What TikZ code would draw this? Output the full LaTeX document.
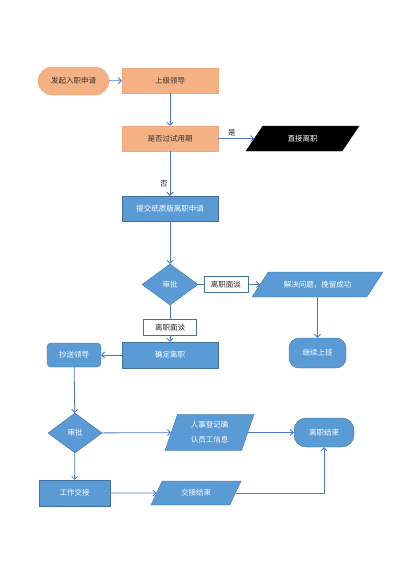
\documentclass[tikz,border=0pt]{standalone}
\usepackage{fontspec}
\setmainfont{Noto Sans CJK SC}
\usetikzlibrary{shapes.geometric,arrows.meta}
\definecolor{boxblue}{HTML}{5B9BD5}
\definecolor{edgeblue}{HTML}{41719C}
\definecolor{lineblue}{HTML}{4A78C2}
\definecolor{boxorange}{HTML}{F4B183}
\definecolor{edgeorange}{HTML}{F0A880}
\begin{document}
\begin{tikzpicture}[x=1pt,y=-1pt,
    every node/.style={font=\fontsize{7.5}{10}\selectfont, inner sep=1pt},
    orangebox/.style={rectangle, fill=boxorange, draw=edgeorange, text=black!80, minimum width=#1, minimum height=25},
    bluebox/.style={rectangle, fill=boxblue, draw=edgeblue, text=white, minimum width=#1, minimum height=26},
    roundbox/.style={bluebox=#1, rounded corners=6},
    chk/.style={diamond, fill=boxblue, draw=edgeblue, text=white, inner sep=0, minimum width=#1, minimum height=41},
    io/.style={trapezium, trapezium stretches body, trapezium left angle=#1, trapezium right angle=180-#1,
      fill=boxblue, draw=edgeblue, text=white, inner xsep=0, inner ysep=8.5, text height=6.5, text depth=1.5},
    tag/.style={rectangle, fill=white, draw=edgeblue, text=black!85, minimum width=44, minimum height=16},
    note/.style={text=black!85, inner sep=2pt},
    flow/.style={draw=lineblue, line width=0.8pt, -{Straight Barb[length=3pt,width=6pt]}}]
  \useasboundingbox (0,0) rectangle (400,565);
  \draw
    (73.5,81) node[orangebox=71, minimum height=28, rounded corners=14] (start){发起入职申请}
    (170,80.5) node[orangebox=96] (leader){上级领导}
    (170,138.5) node[orangebox=96] (prob){是否过试用期}
    (302.5,138.5) node[io=56, minimum width=113, fill=black, draw=black] (direct){直接离职}
    (170,208.5) node[bluebox=96, minimum height=25] (submit){提交纸质版离职申请}
    (170,284.5) node[chk=56] (chk1){审批}
    (317.5,284.5) node[io=57, minimum width=131] (solve){解决问题，挽留成功}
    (317.5,353) node[roundbox=57, minimum height=30, rounded corners=10] (stay){继续上班}
    (170,355) node[bluebox=96] (confirm){确定离职}
    (74,355) node[roundbox=54, minimum height=24, rounded corners=4] (cc){抄送领导}
    (75,433) node[chk=54, minimum height=40] (chk2){审批}
    (209.5,432.5) node[io=71, minimum width=89, text height=, text depth=, inner ysep=7.25,
      font=\fontsize{7.5}{15}\selectfont, align=center] (hr){人事登记确\\认员工信息}
    (324,432.5) node[roundbox=60, minimum height=29, rounded corners=12] (finish){离职结束}
    (74.5,493) node[bluebox=71] (handover){工作交接}
    (196,493) node[io=65, minimum width=90, inner ysep=8] (handend){交接结束};
  \begin{scope}[flow]
    \draw (start) to (leader);
    \draw (leader) to (prob);
    \draw (prob) to node[note, pos=0.38, above] (yes){是} (direct);
    \draw (prob) to node[note, pos=0.73, left] (no){否} (submit);
    \draw (submit) to (chk1);
    \draw (chk1) to node[tag, pos=0.45] (talkA){离职面谈} (solve);
    \draw (chk1) to node[tag, minimum width=53, pos=0.62] (talkB){离职面谈} (confirm);
    \draw (solve) to (stay);
    \draw (confirm) to (cc);
    \draw (cc) to (chk2);
    \draw (chk2) to (hr);
    \draw (hr) to (finish);
    \draw (chk2) to (handover);
    \draw (handover) to (handend);
    \draw (handend) -| (finish);
  \end{scope}
\end{tikzpicture}
\end{document}
